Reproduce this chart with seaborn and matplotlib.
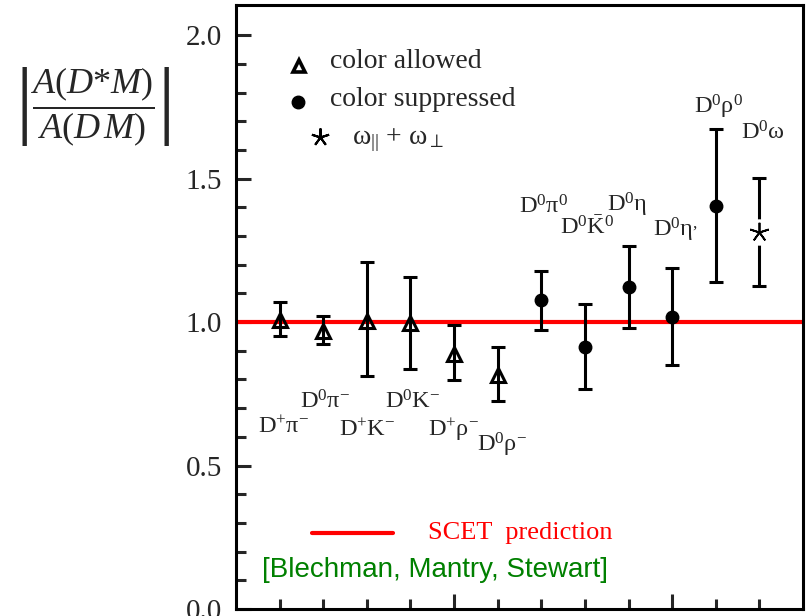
import numpy as np
import matplotlib
matplotlib.use("Agg")
import matplotlib.pyplot as plt
import seaborn as sns

# colour allowed modes (open triangles)
allowed_labels = [r"D$^{+}$π$^{-}$", r"D$^{0}$π$^{-}$", r"D$^{+}$K$^{-}$",
                  r"D$^{0}$K$^{-}$", r"D$^{+}$ρ$^{-}$", r"D$^{0}$ρ$^{-}$"]
allowed_vals = [1.007, 0.970, 1.005, 0.997, 0.890, 0.815]
allowed_hi = [1.071, 1.022, 1.208, 1.158, 0.990, 0.912]
allowed_lo = [0.951, 0.922, 0.813, 0.836, 0.798, 0.725]

# colour suppressed modes (filled circles)
suppressed_labels = [r"D$^{0}$π$^{0}$", r"D$^{0}\bar{\mathrm{K}}^{0}$", r"D$^{0}$η",
                     r"D$^{0}$η$^{,}$", r"D$^{0}$ρ$^{0}$"]
suppressed_vals = [1.077, 0.914, 1.123, 1.018, 1.405]
suppressed_hi = [1.179, 1.063, 1.266, 1.187, 1.672]
suppressed_lo = [0.972, 0.765, 0.978, 0.850, 1.140]

# D0 omega (omega_par + omega_perp)
omega_label = r"D$^{0}$ω"
omega_val = 1.315
omega_hi = 1.501
omega_lo = 1.125

scet_prediction = 1.0

# label anchor points (data coords)
label_x = [1.08, 2.04, 3.0, 4.06, 4.98, 6.1, 7.04, 8.05, 8.97, 10.07, 11.06, 12.09]
label_y = [0.634, 0.721, 0.624, 0.721, 0.624, 0.571, 1.401, 1.328, 1.408, 1.321, 1.749, 1.659]

sns.set_style("ticks")
plt.rcParams["font.family"] = ["Liberation Serif", "DejaVu Serif"]
plt.rcParams["mathtext.fontset"] = "custom"
plt.rcParams["mathtext.rm"] = "Liberation Serif"
plt.rcParams["mathtext.it"] = "Liberation Serif:italic"
plt.rcParams["mathtext.bf"] = "Liberation Serif:bold"

fig = plt.figure(figsize=(8.12, 6.16), dpi=100)
ax = fig.add_axes([236 / 812, 7 / 616, 567 / 812, 604 / 616])

n_a = len(allowed_vals)
n_s = len(suppressed_vals)
x_a = np.arange(1, n_a + 1)
x_s = np.arange(n_a + 1, n_a + n_s + 1)
x_w = n_a + n_s + 1

err_kw = dict(ecolor="black", elinewidth=2.2, capsize=5, capthick=2.2, zorder=3)

ax.axhline(scet_prediction, color="red", lw=3, zorder=2)

a_vals = np.array(allowed_vals)
ax.errorbar(x_a, a_vals, yerr=[a_vals - np.array(allowed_lo), np.array(allowed_hi) - a_vals],
            fmt="^", ms=10, mfc="none", mec="black", mew=2.2, **err_kw)

s_vals = np.array(suppressed_vals)
ax.errorbar(x_s, s_vals, yerr=[s_vals - np.array(suppressed_lo), np.array(suppressed_hi) - s_vals],
            fmt="o", ms=9, mfc="black", mec="black", **err_kw)

ax.errorbar([x_w], [omega_val], yerr=[[omega_val - omega_lo], [omega_hi - omega_val]],
            fmt="none", **err_kw)
ax.plot([x_w], [omega_val], "o", ms=19, mfc="white", mec="none", zorder=4)
ax.plot([x_w], [omega_val], marker=(5, 2, 0), ms=14, color="black", mew=1.3, zorder=5)

for lab, lx, ly in zip(allowed_labels + suppressed_labels + [omega_label], label_x, label_y):
    ax.text(lx, ly, lab, fontsize=17.5, ha="center", va="center", zorder=6)

# legend drawn by hand
ax.plot([0.111], [0.899], transform=ax.transAxes, marker="^", ms=8, mfc="none",
        mec="black", mew=2.6, ls="none")
ax.plot([0.109], [0.839], transform=ax.transAxes, marker="o", ms=9, color="black", ls="none")
ax.plot([0.148], [0.781], transform=ax.transAxes, marker=(5, 2, 0), ms=13, color="black",
        mew=1.5, ls="none")
ax.text(0.166, 0.906, "color allowed", transform=ax.transAxes, fontsize=20, va="center")
ax.text(0.166, 0.843, "color suppressed", transform=ax.transAxes, fontsize=20, va="center")
ax.text(0.2046, 0.776, r"ω$_{||}$ + ω$_{\perp}$", transform=ax.transAxes, fontsize=20, va="center")

ax.plot([0.134, 0.277], [0.126, 0.126], transform=ax.transAxes, color="red", lw=3)
ax.text(0.339, 0.126, "SCET  prediction", transform=ax.transAxes, fontsize=19,
        color="red", va="center")
ax.text(0.046, 0.064, "[Blechman, Mantry, Stewart]", transform=ax.transAxes, fontsize=20,
        color="green", va="center", family=["Liberation Sans", "DejaVu Sans"])

ax.set_xlim(0, 13)
ax.set_ylim(0, 2.105)
ax.set_yticks([0.0, 0.5, 1.0, 1.5, 2.0])
ax.set_yticks(np.arange(0, 2.05, 0.1), minor=True)
ax.set_xticks([5, 10])
ax.set_xticks([1, 2, 3, 4, 6, 7, 8, 9, 11, 12], minor=True)
ax.set_xticklabels([])
ax.yaxis.set_major_formatter(matplotlib.ticker.FormatStrFormatter("%.1f"))
ax.tick_params(axis="both", which="major", direction="in", length=11, width=2.2,
               labelsize=21, pad=10, top=False, right=False)
ax.tick_params(axis="both", which="minor", direction="in", length=7, width=2.2,
               top=False, right=False)
for sp in ax.spines.values():
    sp.set_linewidth(2.2)
    sp.set_color("black")

fig.text(0.1145, 0.825, r"$\left|\dfrac{A(D{*}M)}{A(D\,M)}\right|$", fontsize=26,
         ha="center", va="center")

fig.savefig("out.png", dpi=100)
